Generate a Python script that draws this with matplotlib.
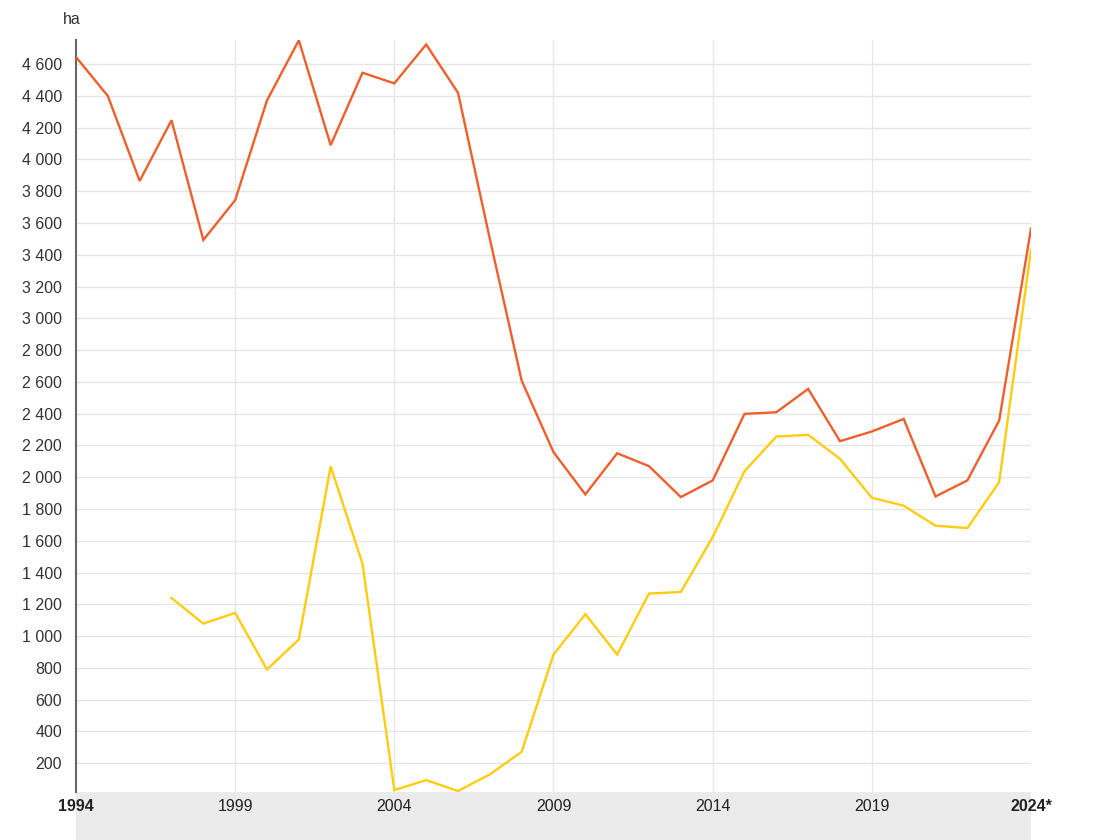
import matplotlib
matplotlib.use("Agg")
import matplotlib.pyplot as plt
from matplotlib.patches import Rectangle

plt.rcParams['font.family'] = ['Liberation Sans', 'DejaVu Sans']

years = list(range(1994, 2025))
orange_vals = [4645, 4400, 3865, 4247, 3493, 3744, 4372, 4750, 4090, 4546,
               4479, 4724, 4420, 3500, 2608, 2158, 1892, 2151, 2070, 1875,
               1980, 2399, 2409, 2556, 2227, 2288, 2367, 1879, 1980, 2357, 3565]
yellow_years = list(range(1997, 2025))
yellow_vals = [1240, 1079, 1146, 790, 979, 2068, 1456, 31, 94, 25,
               130, 272, 884, 1138, 884, 1268, 1278, 1623, 2038, 2256,
               2267, 2116, 1871, 1821, 1695, 1680, 1969, 3432]
x_ticks = [1994, 1999, 2004, 2009, 2014, 2019, 2024]
x_labels = ['1994', '1999', '2004', '2009', '2014', '2019', '2024*']
y_ticks = list(range(200, 4601, 200))
unit = 'ha'

W, H = 1102, 840
fig = plt.figure(figsize=(W / 100, H / 100), dpi=100)
fig.patch.set_facecolor('white')
L, R, B, T = 76, 1031, 792, 40

# gray band beneath the plot (added first so it sits under the labels)
fig.patches.append(Rectangle((L / W, 0), (R - L) / W, 1 - B / H,
                             transform=fig.transFigure, facecolor='#ebebeb',
                             edgecolor='none', zorder=-5))

ax = fig.add_axes([L / W, 1 - B / H, (R - L) / W, (B - T) / H])
ax.set_zorder(2)

for y in y_ticks:
    ax.axhline(y, color='#e6e6e6', lw=1.0, zorder=1)
for x in x_ticks[1:-1]:
    ax.axvline(x, color='#e6e6e6', lw=1.0, zorder=1)

ax.plot(years, orange_vals, color='#EE5F2B', lw=1.7, zorder=3,
        solid_joinstyle='miter')
ax.plot(yellow_years, yellow_vals, color='#FFCC11', lw=1.7, zorder=3,
        solid_joinstyle='miter')

ax.set_xlim(1994, 2024)
ax.set_ylim(19, 4752)

for s in ['top', 'right', 'bottom']:
    ax.spines[s].set_visible(False)
ax.spines['left'].set_color('#666666')
ax.spines['left'].set_linewidth(1.5)

ax.set_yticks(y_ticks)
ax.set_yticklabels([f"{v:,}".replace(',', ' ') for v in y_ticks])
ax.tick_params(axis='y', length=0, pad=10, labelsize=11.5, labelcolor='#333333')
ax.set_xticks(x_ticks)
ax.set_xticklabels(x_labels)
ax.tick_params(axis='x', length=0, pad=5, labelsize=11.5, labelcolor='#222222')
for lbl in ax.get_xticklabels():
    if lbl.get_text() in ('1994', '2024*'):
        lbl.set_fontweight('bold')

fig.text(63 / W, 1 - 20 / H, unit, fontsize=11.5, color='#333333',
         ha='left', va='center')

fig.savefig('out.png', dpi=100, facecolor='white')
